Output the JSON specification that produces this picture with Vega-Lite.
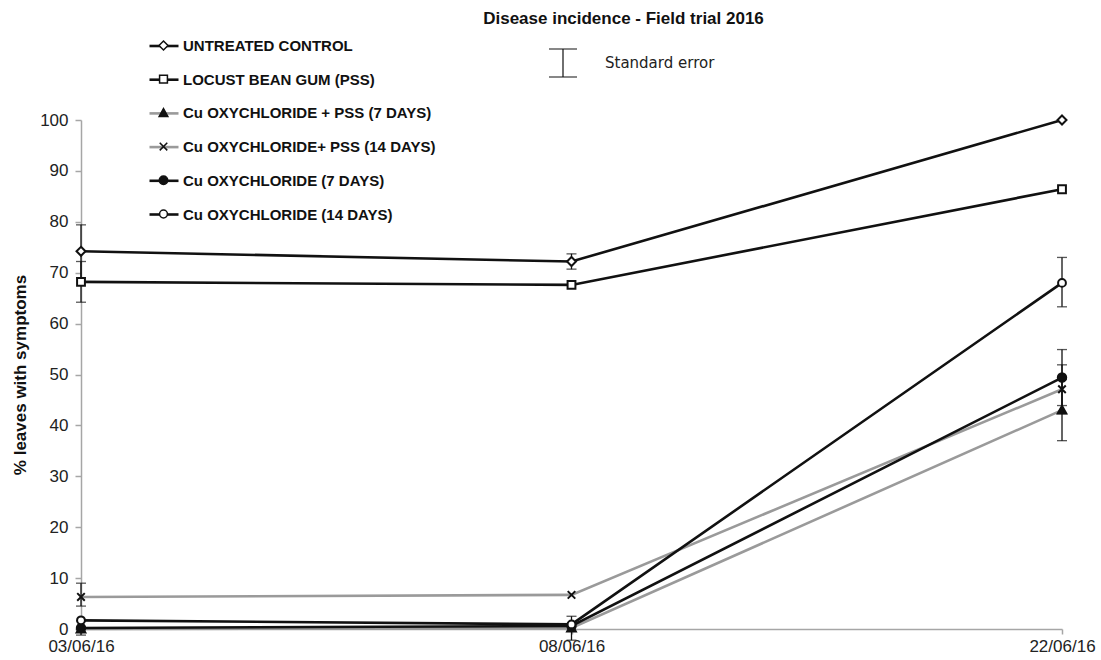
{
  "$schema": "https://vega.github.io/schema/vega-lite/v6.json",
  "width": 981,
  "height": 509,
  "autosize": {"type": "none"},
  "padding": {"left": 81, "top": 120, "right": 39, "bottom": 31},
  "background": "white",
  "title": {
    "text": "Disease incidence - Field trial 2016",
    "frame": "group",
    "anchor": "middle",
    "dx": 52,
    "offset": 2,
    "font": "Liberation Sans",
    "fontSize": 17,
    "fontWeight": "bold",
    "color": "#111111"
  },
  "config": {
    "view": {"stroke": null},
    "font": "Liberation Sans",
    "axis": {
      "grid": false,
      "domainColor": "#a6a6a6",
      "domainWidth": 1.5,
      "tickColor": "#a6a6a6",
      "tickWidth": 1.5,
      "labelFont": "Liberation Sans",
      "labelFontSize": 17,
      "labelColor": "#222222",
      "titleFont": "Liberation Sans",
      "titleFontSize": 17,
      "titleFontWeight": "bold",
      "titleColor": "#111111"
    }
  },
  "datasets": {
    "readings": [
      {"date": "03/06/16", "treatment": "UNTREATED CONTROL", "order": 1, "pct": 74.2},
      {"date": "08/06/16", "treatment": "UNTREATED CONTROL", "order": 1, "pct": 72.2},
      {"date": "22/06/16", "treatment": "UNTREATED CONTROL", "order": 1, "pct": 100},
      {"date": "03/06/16", "treatment": "LOCUST BEAN GUM (PSS)", "order": 2, "pct": 68.2},
      {"date": "08/06/16", "treatment": "LOCUST BEAN GUM (PSS)", "order": 2, "pct": 67.6},
      {"date": "22/06/16", "treatment": "LOCUST BEAN GUM (PSS)", "order": 2, "pct": 86.4},
      {"date": "03/06/16", "treatment": "Cu OXYCHLORIDE + PSS (7 DAYS)", "order": 3, "pct": 0},
      {"date": "08/06/16", "treatment": "Cu OXYCHLORIDE + PSS (7 DAYS)", "order": 3, "pct": 0.2},
      {"date": "22/06/16", "treatment": "Cu OXYCHLORIDE + PSS (7 DAYS)", "order": 3, "pct": 43.0},
      {"date": "03/06/16", "treatment": "Cu OXYCHLORIDE+ PSS  (14 DAYS)", "order": 4, "pct": 6.3},
      {"date": "08/06/16", "treatment": "Cu OXYCHLORIDE+ PSS  (14 DAYS)", "order": 4, "pct": 6.7},
      {"date": "22/06/16", "treatment": "Cu OXYCHLORIDE+ PSS  (14 DAYS)", "order": 4, "pct": 47.1},
      {"date": "03/06/16", "treatment": "Cu OXYCHLORIDE (7 DAYS)", "order": 5, "pct": 0.2},
      {"date": "08/06/16", "treatment": "Cu OXYCHLORIDE (7 DAYS)", "order": 5, "pct": 0.6},
      {"date": "22/06/16", "treatment": "Cu OXYCHLORIDE (7 DAYS)", "order": 5, "pct": 49.4},
      {"date": "03/06/16", "treatment": "Cu OXYCHLORIDE (14 DAYS)", "order": 6, "pct": 1.7},
      {"date": "08/06/16", "treatment": "Cu OXYCHLORIDE (14 DAYS)", "order": 6, "pct": 0.9},
      {"date": "22/06/16", "treatment": "Cu OXYCHLORIDE (14 DAYS)", "order": 6, "pct": 68.0}
    ],
    "errors": [
      {"date": "03/06/16", "treatment": "UNTREATED CONTROL", "lo": 69.0, "hi": 79.4},
      {"date": "03/06/16", "treatment": "LOCUST BEAN GUM (PSS)", "lo": 64.2, "hi": 72.2},
      {"date": "03/06/16", "treatment": "Cu OXYCHLORIDE+ PSS  (14 DAYS)", "lo": 4.5, "hi": 9.0},
      {"date": "03/06/16", "treatment": "Cu OXYCHLORIDE (7 DAYS)", "lo": -1.2, "hi": 1.6},
      {"date": "08/06/16", "treatment": "UNTREATED CONTROL", "lo": 70.7, "hi": 73.7},
      {"date": "08/06/16", "treatment": "Cu OXYCHLORIDE (14 DAYS)", "lo": -2.2, "hi": 2.5},
      {"date": "22/06/16", "treatment": "Cu OXYCHLORIDE (14 DAYS)", "lo": 63.3, "hi": 73.0},
      {"date": "22/06/16", "treatment": "Cu OXYCHLORIDE (7 DAYS)", "lo": 43.9, "hi": 54.9},
      {"date": "22/06/16", "treatment": "Cu OXYCHLORIDE+ PSS  (14 DAYS)", "lo": 42.3, "hi": 51.9},
      {"date": "22/06/16", "treatment": "Cu OXYCHLORIDE + PSS (7 DAYS)", "lo": 37.0, "hi": 49.0}
    ]
  },
  "encoding": {
    "x": {
      "field": "date",
      "type": "ordinal",
      "sort": ["03/06/16", "08/06/16", "22/06/16"],
      "scale": {"type": "point", "padding": 0},
      "title": null,
      "axis": {"labelAngle": 0, "tickSize": 5, "labelPadding": 4}
    }
  },
  "layer": [
    {
      "data": {"name": "errors"},
      "mark": {"type": "rule", "color": "#111111", "strokeWidth": 1.3},
      "encoding": {
        "y": {
          "field": "lo",
          "type": "quantitative",
          "scale": {"domain": [0, 100], "nice": false, "zero": false},
          "title": "% leaves with symptoms",
          "axis": {"values": [0, 10, 20, 30, 40, 50, 60, 70, 80, 90, 100], "tickSize": 6, "labelPadding": 7, "titlePadding": 10}
        },
        "y2": {"field": "hi"},
        "strokeDash": {
          "datum": "Standard error",
          "scale": {"range": [[1, 0]]},
          "legend": {
            "orient": "none",
            "legendX": 467,
            "legendY": -72,
            "title": null,
            "padding": 0,
            "symbolType": "M-1,-1H1M0,-1V1M-1,1H1",
            "symbolSize": 784,
            "symbolStrokeWidth": 1.2,
            "symbolStrokeColor": "#111111",
            "labelFont": "DejaVu Sans",
            "labelFontSize": 15,
            "labelColor": "#222222",
            "labelOffset": 27
          }
        }
      }
    },
    {
      "data": {"name": "errors"},
      "mark": {"type": "tick", "color": "#111111", "size": 10, "thickness": 1.3},
      "encoding": {
        "y": {"field": "lo", "type": "quantitative", "title": "% leaves with symptoms"}
      }
    },
    {
      "data": {"name": "errors"},
      "mark": {"type": "tick", "color": "#111111", "size": 10, "thickness": 1.3},
      "encoding": {
        "y": {"field": "hi", "type": "quantitative", "title": "% leaves with symptoms"}
      }
    },
    {
      "data": {"name": "readings"},
      "mark": {"type": "line", "strokeWidth": 2.6},
      "encoding": {
        "y": {"field": "pct", "type": "quantitative", "title": "% leaves with symptoms"},
        "stroke": {
          "field": "treatment",
          "type": "nominal",
          "scale": {
            "domain": ["UNTREATED CONTROL", "LOCUST BEAN GUM (PSS)", "Cu OXYCHLORIDE + PSS (7 DAYS)", "Cu OXYCHLORIDE+ PSS  (14 DAYS)", "Cu OXYCHLORIDE (7 DAYS)", "Cu OXYCHLORIDE (14 DAYS)"],
            "range": ["#111111", "#111111", "#9a9a9a", "#9a9a9a", "#111111", "#111111"]
          },
          "legend": {
            "orient": "none",
            "legendX": 67,
            "legendY": -90,
            "title": null,
            "padding": 0,
            "rowPadding": 9.7,
            "symbolType": "M-1,0H1",
            "symbolSize": 841,
            "symbolStrokeWidth": 2.6,
            "labelFont": "Liberation Sans",
            "labelFontSize": 15,
            "labelFontWeight": "bold",
            "labelColor": "#111111",
            "labelOffset": 3,
            "labelLimit": 400
          }
        }
      }
    },
    {
      "data": {"name": "readings"},
      "mark": {"type": "point", "size": 841, "stroke": "#111111", "strokeWidth": 2, "opacity": 1},
      "encoding": {
        "y": {"field": "pct", "type": "quantitative", "title": "% leaves with symptoms"},
        "shape": {
          "field": "treatment",
          "type": "nominal",
          "sort": {"field": "order", "op": "min"},
          "scale": {
            "range": [
              "M0,-0.31L0.31,0L0,0.31L-0.31,0Z",
              "M-0.27,-0.27H0.27V0.27H-0.27Z",
              "M0,-0.3L0.3,0.24H-0.3Z",
              "M-0.26,-0.26L0.26,0.26M-0.26,0.26L0.26,-0.26",
              "M-0.29,0A0.29,0.29 0 1,0 0.29,0A0.29,0.29 0 1,0 -0.29,0Z",
              "M-0.27,0A0.27,0.27 0 1,0 0.27,0A0.27,0.27 0 1,0 -0.27,0Z"
            ]
          },
          "legend": {
            "orient": "none",
            "legendX": 67,
            "legendY": -90,
            "title": null,
            "padding": 0,
            "rowPadding": 9.7,
            "symbolSize": 841,
            "labelFont": "Liberation Sans",
            "labelFontSize": 15,
            "labelFontWeight": "bold",
            "labelOpacity": 0,
            "labelOffset": 3,
            "labelLimit": 400,
            "encode": {
              "symbols": {
                "update": {
                  "stroke": {"value": "#111111"},
                  "strokeWidth": {"value": 2},
                  "opacity": {"value": 1}
                }
              }
            }
          }
        },
        "fill": {
          "field": "treatment",
          "type": "nominal",
          "sort": {"field": "order", "op": "min"},
          "scale": {"range": ["#ffffff", "#ffffff", "#111111", "#111111", "#111111", "#ffffff"]}
        }
      }
    }
  ]
}
